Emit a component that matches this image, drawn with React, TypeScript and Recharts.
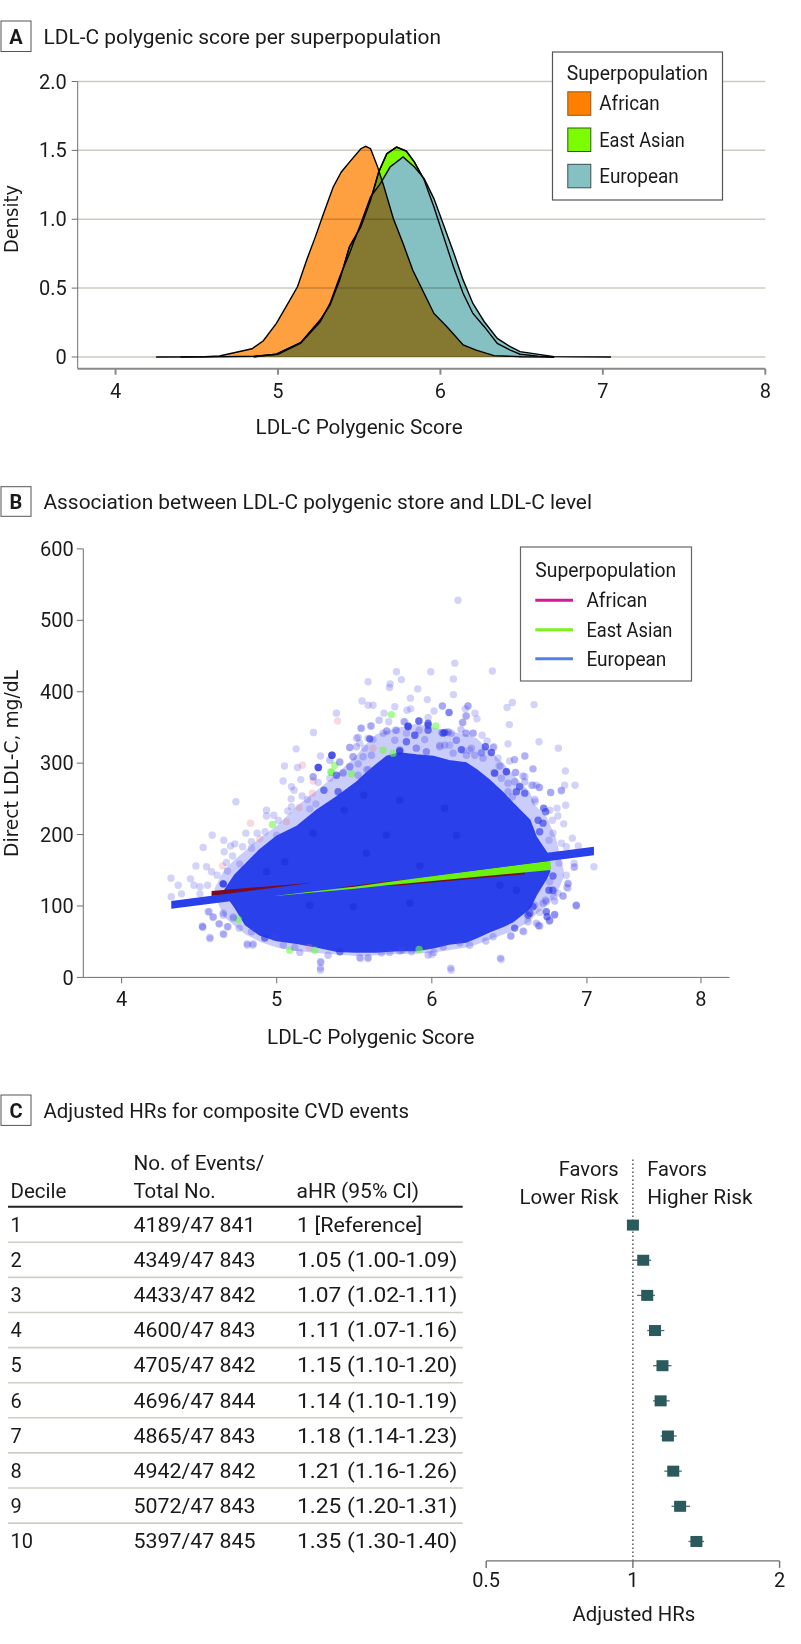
import {
  Area,
  ComposedChart,
  ErrorBar,
  ReferenceLine,
  Scatter,
  ScatterChart,
  XAxis,
  YAxis,
} from "recharts";

const FONT = "Roboto, sans-serif";
const AXIS_GREY = "#6f6f6f";

// Panel A: density curves
const africanScores = [4.4, 4.55, 4.64, 4.84, 4.91, 4.99, 5.05, 5.12, 5.18, 5.23, 5.28, 5.34, 5.39, 5.44, 5.51, 5.54, 5.57, 5.61, 5.65, 5.71, 5.77, 5.83, 5.9, 5.96, 6.04, 6.14, 6.22, 6.33, 6.5, 6.7];
const africanDensity = [0, 0.002, 0.007, 0.06, 0.118, 0.244, 0.365, 0.51, 0.715, 0.872, 1.04, 1.234, 1.343, 1.415, 1.512, 1.529, 1.512, 1.391, 1.246, 1.005, 0.824, 0.63, 0.461, 0.316, 0.22, 0.087, 0.05, 0.01, 0.002, 0];
const eastAsianScores = [4.85, 4.99, 5.14, 5.26, 5.32, 5.38, 5.44, 5.51, 5.57, 5.62, 5.67, 5.73, 5.79, 5.84, 5.9, 5.96, 6.02, 6.08, 6.14, 6.2, 6.27, 6.35, 6.43, 6.49, 6.6, 6.7];
const eastAsianDensity = [0.002, 0.02, 0.104, 0.268, 0.377, 0.558, 0.8, 0.944, 1.138, 1.343, 1.476, 1.524, 1.495, 1.415, 1.285, 1.089, 0.872, 0.655, 0.461, 0.316, 0.22, 0.099, 0.05, 0.02, 0.006, 0];
const europeanScores = [4.25, 4.6, 4.85, 5.0, 5.14, 5.26, 5.32, 5.38, 5.44, 5.51, 5.57, 5.63, 5.69, 5.77, 5.84, 5.9, 5.96, 6.02, 6.08, 6.14, 6.2, 6.27, 6.35, 6.43, 6.49, 6.7, 7.05];
const europeanDensity = [0, 0.001, 0.005, 0.02, 0.1, 0.256, 0.389, 0.582, 0.751, 0.969, 1.162, 1.258, 1.379, 1.452, 1.379, 1.295, 1.15, 0.957, 0.763, 0.558, 0.389, 0.256, 0.135, 0.075, 0.039, 0.003, 0];
const densityTicks = [0, 0.5, 1, 1.5, 2];
const densityTickLabels = ["0", "0.5", "1.0", "1.5", "2.0"];
const scoreTicksA = [4, 5, 6, 7, 8];

// Panel B: outline of the solid cloud
const cloudScores = [4.66, 4.73, 4.8, 4.89, 5.0, 5.13, 5.26, 5.39, 5.51, 5.57, 5.64, 5.71, 5.79, 5.9, 6.01, 6.11, 6.22, 6.29, 6.37, 6.46, 6.52, 6.63, 6.67, 6.74, 6.76];
const cloudHigh = [120, 143, 158, 178, 197, 211, 234, 253, 272, 284, 297, 309, 314, 311, 309, 303, 300, 290, 276, 258, 244, 220, 197, 174, 152];
const cloudLow = [120, 99, 74, 60, 52, 48, 43, 37, 36, 36, 36, 37, 38, 38, 42, 47, 50, 56, 64, 72, 78, 97, 115, 140, 150];
// the crowded ring of points round it
const ringScores = [4.6, 4.66, 4.73, 4.8, 4.89, 5.0, 5.13, 5.26, 5.39, 5.51, 5.57, 5.64, 5.71, 5.79, 5.9, 6.01, 6.11, 6.22, 6.29, 6.37, 6.46, 6.52, 6.63, 6.67, 6.74, 6.8, 6.85];
const ringHigh = [125, 150, 165, 178, 195, 212, 240, 262, 285, 310, 325, 340, 345, 350, 355, 350, 345, 340, 335, 318, 300, 285, 260, 240, 225, 195, 150];
const ringLow = [115, 85, 72, 60, 50, 42, 37, 34, 32, 30, 30, 31, 32, 33, 33, 35, 38, 42, 46, 53, 60, 65, 78, 88, 100, 115, 140];

const europeanPoints: [number, number][] = [
  [6.169, 528], [6.148, 440], [5.772, 428], [5.993, 428], [6.39, 429], [5.589, 414], [5.804, 417], [5.731, 411], [5.727, 406], [6.139, 418],
  [5.909, 404], [6.139, 396], [5.862, 391], [5.971, 389], [5.55, 387], [5.589, 381], [5.621, 381], [5.761, 379], [5.864, 376], [5.84, 374],
  [6.014, 373], [6.068, 380], [6.233, 380], [6.216, 376], [6.485, 378], [6.519, 385], [6.659, 382], [5.385, 370], [5.692, 370], [6.218, 366],
  [6.278, 370], [6.291, 362], [6.5, 354], [5.237, 343], [6.691, 330], [6.491, 327], [6.816, 321], [5.125, 320], [5.282, 310], [6.6, 310],
  [5.05, 296], [5.134, 294], [6.652, 292], [6.861, 289], [6.502, 303], [6.532, 305], [5.722, 358], [5.819, 358], [5.976, 364], [6.201, 357],
  [5.604, 352], [5.542, 349], [5.707, 345], [5.765, 346], [5.836, 342], [5.89, 339], [6.062, 343], [6.105, 343], [6.158, 332], [6.223, 342],
  [6.266, 342], [6.324, 339], [6.356, 331], [5.514, 335], [5.589, 335], [5.621, 333], [5.471, 322], [5.535, 328], [5.568, 321], [5.9, 321],
  [5.965, 316], [6.051, 325], [6.115, 325], [6.201, 318], [6.244, 318], [6.347, 323], [6.4, 323], [6.384, 315], [6.32, 314], [6.427, 307],
  [5.492, 309], [5.407, 301], [5.471, 295], [5.428, 287], [5.579, 291], [6.401, 287], [6.48, 288], [6.538, 287], [6.6, 281], [6.442, 296],
  [5.041, 275], [5.155, 277], [5.095, 267], [5.112, 262], [5.235, 281], [5.267, 273], [5.342, 279], [4.737, 246], [5.093, 250], [5.164, 254],
  [5.198, 249], [5.252, 243], [4.934, 234], [4.934, 226], [4.981, 227], [5.071, 233], [5.095, 239], [5.213, 236], [5.011, 220], [4.801, 202],
  [4.874, 202], [4.925, 204], [5.0, 199], [4.584, 199], [4.659, 192], [4.73, 187], [4.702, 184], [4.837, 190], [4.78, 183], [4.526, 182],
  [4.661, 176], [4.837, 181], [4.715, 170], [4.479, 156], [4.547, 155], [4.676, 161], [4.762, 159], [4.58, 148], [4.616, 143], [4.683, 149],
  [4.318, 139], [4.444, 138], [4.365, 129], [4.466, 129], [4.505, 127], [4.554, 129], [4.386, 117], [4.32, 113], [4.505, 117], [4.565, 92],
  [4.59, 84], [4.655, 87], [4.629, 75], [4.52, 72], [4.687, 71], [4.72, 85], [4.524, 70], [4.57, 54], [4.659, 60], [4.81, 45],
  [4.846, 45], [5.285, 21], [5.282, 10], [5.541, 26], [5.588, 26], [6.124, 10], [6.447, 25], [6.0, 32], [6.51, 58], [6.592, 64],
  [6.69, 72], [6.757, 79], [6.79, 87], [6.93, 100], [6.87, 126], [6.92, 155], [7.045, 155], [6.599, 310], [6.534, 305], [6.652, 292],
  [6.481, 288], [6.405, 286], [6.433, 296], [6.674, 269], [6.642, 269], [6.856, 269], [6.923, 269], [6.691, 266], [6.766, 259], [6.835, 261],
  [6.667, 246], [6.863, 241], [6.807, 237], [6.76, 234], [6.813, 226], [6.777, 220], [6.85, 215], [6.781, 202], [6.906, 195], [6.835, 188],
  [6.755, 192], [6.867, 183], [6.944, 184], [6.82, 160], [6.917, 160], [6.917, 154], [6.867, 143], [6.76, 134], [6.878, 132], [6.878, 125],
  [6.813, 118], [6.846, 114], [6.785, 113], [6.931, 101], [6.738, 106], [6.792, 88], [6.695, 91], [6.76, 79], [6.685, 73],
];
// second pass along the edge of the cloud, from closer crops
const europeanEdge: [number, number][] = [
  [5.61, 352], [5.546, 349], [5.66, 360], [5.711, 345], [5.772, 346], [5.825, 358], [5.918, 359], [5.918, 346], [6.105, 344], [5.525, 336],
  [5.686, 342], [5.761, 332], [5.954, 333], [6.051, 323], [5.471, 322], [5.514, 323], [5.9, 321], [5.965, 316], [5.492, 309], [5.557, 309],
  [5.611, 311], [5.406, 302], [5.342, 304], [5.471, 295], [5.525, 299], [5.589, 291], [5.428, 286], [5.235, 281], [5.525, 283], [6.068, 380],
  [6.233, 380], [6.223, 366], [6.197, 357], [6.188, 347], [6.219, 342], [6.266, 342], [6.126, 342], [6.158, 332], [6.255, 321], [6.277, 311],
  [6.223, 311], [6.137, 314], [6.083, 325], [6.395, 322], [6.319, 315], [6.33, 307], [6.541, 287], [6.448, 279], [6.588, 282], [6.599, 274],
  [6.534, 274], [6.491, 272], [6.652, 269], [6.695, 266], [6.491, 260], [6.519, 253], [6.663, 249], [6.835, 262], [6.766, 259],
  [4.569, 56], [4.655, 61], [4.522, 71], [4.629, 75], [4.681, 71], [4.558, 92], [4.59, 85], [4.655, 90], [4.72, 83], [4.758, 69],
  [4.837, 64], [4.81, 47], [4.848, 47], [4.988, 56], [5.042, 45], [5.117, 42], [5.149, 35], [5.331, 31], [5.535, 28], [5.589, 28],
  [5.282, 22], [5.282, 13], [5.675, 34], [5.729, 35], [5.793, 37], [5.81, 38], [5.869, 36], [5.976, 31.4], [6.013, 35], [6.073, 43],
  [6.18, 48], [6.244, 45], [6.348, 51], [6.395, 57], [6.509, 58], [6.588, 65], [6.62, 78], [6.674, 76], [6.696, 72], [6.76, 80],
  [6.792, 88], [6.717, 104], [6.663, 101], [6.732, 108], [6.792, 107], [6.846, 114], [6.878, 131], [6.932, 101], [6.442, 27], [6.122, 13],
];
// places where several European points pile up and look darker
const europeanPiled: [number, number][] = [
  [6.111, 371], [5.357, 311], [5.267, 294], [5.916, 359], [5.847, 352], [5.976, 353], [5.793, 316], [5.269, 294], [5.304, 262], [5.396, 260],
  [4.655, 131], [6.566, 267], [6.599, 258], [6.545, 260], [6.721, 237], [6.734, 232], [6.685, 220], [6.717, 216], [6.695, 204], [6.781, 142],
  [6.755, 122], [6.652, 99], [6.743, 85], [6.62, 87], [5.976, 356], [5.847, 351], [5.976, 346], [6.072, 342], [5.6, 334], [5.836, 330],
  [5.89, 339], [5.793, 318], [5.355, 311], [5.385, 283], [6.083, 343], [6.19, 319], [6.345, 323], [6.384, 315], [6.481, 288], [6.405, 286],
  [4.923, 55], [5.407, 36], [6.534, 69], [6.738, 92], [6.631, 90], [6.78, 122], [4.655, 131],
];
// faint darker spots inside the solid part
const europeanInner: [number, number][] = [
  [6.158, 199], [5.922, 156], [5.858, 104], [6.438, 129], [6.545, 122], [5.793, 248], [6.083, 237], [5.434, 234], [5.561, 255], [5.052, 162],
  [4.934, 148], [5.235, 202], [5.578, 174], [5.707, 199], [5.213, 101], [5.493, 99],
];
const eastAsianPoints: [number, number][] = [
  [5.739, 368], [6.025, 352], [5.686, 318], [5.75, 314], [5.374, 297], [5.349, 288], [5.482, 285], [5.353, 287], [4.973, 214], [4.752, 81], [5.084, 38], [5.245, 38], [5.918, 39],
];
const africanPoints: [number, number][] = [
  [5.392, 359], [5.166, 297], [5.621, 321], [5.235, 275], [5.23, 258], [5.145, 238], [5.063, 218], [4.831, 216], [4.891, 194], [4.651, 156], [5.21, 42],
];

// regression bands with their CI, [low, high]
const africanBandScores = [4.58, 5.19, 5.8, 6.6];
const africanBand: [number, number][] = [[114, 121], [124, 132], [129, 136], [144.5, 150]];
const eastAsianBandScores = [4.99, 5.5, 5.73, 6.766];
const eastAsianBand: [number, number][] = [[114, 114.5], [124, 127], [129.4, 134], [150.4, 163.5]];
const europeanBandScores = [4.32, 7.045];
const europeanBand: [number, number][] = [[96, 107], [171, 183]];
const ldlTicks = [0, 100, 200, 300, 400, 500, 600];
const scoreTicksB = [4, 5, 6, 7, 7.735]; // the 8 sits short of its place in the original
const scoreTickLabelsB = ["4", "5", "6", "7", "8"];

// Panel C: table and forest plot
const deciles = [1, 2, 3, 4, 5, 6, 7, 8, 9, 10];
const eventLabels = ["4189/47 841", "4349/47 843", "4433/47 842", "4600/47 843", "4705/47 842", "4696/47 844", "4865/47 843", "4942/47 842", "5072/47 843", "5397/47 845"];
const hrLabels = ["1 [Reference]", "1.05 (1.00-1.09)", "1.07 (1.02-1.11)", "1.11 (1.07-1.16)", "1.15 (1.10-1.20)", "1.14 (1.10-1.19)", "1.18 (1.14-1.23)", "1.21 (1.16-1.26)", "1.25 (1.20-1.31)", "1.35 (1.30-1.40)"];
const hazardRatios = [1, 1.05, 1.07, 1.11, 1.15, 1.14, 1.18, 1.21, 1.25, 1.35];
const ciLow = [1, 1.0, 1.02, 1.07, 1.1, 1.1, 1.14, 1.16, 1.2, 1.3];
const ciHigh = [1, 1.09, 1.11, 1.16, 1.2, 1.19, 1.23, 1.26, 1.31, 1.4];
const hrTicks = [0.5, 1, 2];

const curve = (xs: number[], ys: number[]) => xs.map((score, i) => ({ score, density: ys[i] }));
const band = (xs: number[], ranges: [number, number][]) => xs.map((score, i) => ({ score, range: ranges[i] }));
const points = (list: [number, number][]) => list.map(([score, ldl]) => ({ score, ldl }));

const cloudRows = cloudScores.map((score, i) => ({ score, range: [cloudLow[i], cloudHigh[i]] }));
const ringRows = ringScores.map((score, i) => ({ score, range: [ringLow[i], ringHigh[i]] }));
const forestRows = deciles.map((decile, i) => ({
  hr: hazardRatios[i],
  decile,
  ci: [hazardRatios[i] - ciLow[i], ciHigh[i] - hazardRatios[i]],
}));

const tickStyle = { fontFamily: FONT, fontSize: 20, fill: "#1a1a1a" };

function T(props: { x: number; y: number; w?: number; size?: number; family?: string; weight?: number; anchor?: "start" | "middle" | "end"; rotate?: boolean; children: string }) {
  const { x, y, w, size = 20, family = FONT, weight, anchor = "start", rotate, children } = props;
  return (
    <text
      x={x}
      y={y}
      fontFamily={family}
      fontSize={size}
      fontWeight={weight}
      fill="#1a1a1a"
      textAnchor={anchor}
      textLength={w}
      lengthAdjust={w ? "spacingAndGlyphs" : undefined}
      transform={rotate ? `rotate(-90 ${x} ${y})` : undefined}
    >
      {children}
    </text>
  );
}

function PanelTitle({ letter, top, height, baseline, width, children }: { letter: string; top: number; height: number; baseline: number; width: number; children: string }) {
  return (
    <g>
      <rect x={1} y={top} width={30} height={height} fill="#fff" stroke="#555" strokeWidth={1} />
      <T x={16} y={baseline} weight={700} anchor="middle">{letter}</T>
      <T x={43.5} y={baseline} w={width}>{children}</T>
    </g>
  );
}

const dot = (r: number, fill: string) => (p: any) => <circle cx={p.cx} cy={p.cy} r={r} fill={fill} />;

function Overlay() {
  return (
    <svg width={801} height={1644} style={{ position: "absolute", left: 0, top: 0 }}>
      <PanelTitle letter="A" top={21} height={30.5} baseline={44} width={397.5}>LDL-C polygenic score per superpopulation</PanelTitle>
      <T x={18} y={253} size={19} family="DejaVu Sans" w={68} rotate>Density</T>
      <T x={255.6} y={434} w={207}>LDL-C Polygenic Score</T>

      <rect x={552.5} y={52} width={170} height={148} fill="#fff" stroke="#555" strokeWidth={1.2} />
      <T x={566.7} y={80} w={141.3}>Superpopulation</T>
      <rect x={567.8} y={91.8} width={23} height={23.5} fill="#FF7F00" stroke="#8a5a2a" strokeWidth={1} />
      <rect x={567.8} y={128} width={23} height={23.5} fill="#7CFC00" stroke="#2e5a10" strokeWidth={1} />
      <rect x={567.8} y={164.3} width={23} height={23.5} fill="#85C1C3" stroke="#3a5050" strokeWidth={1} />
      <T x={599.3} y={110.3} w={60.5}>African</T>
      <T x={599.3} y={146.7} w={85.5}>East Asian</T>
      <T x={599.3} y={183} w={79.5}>European</T>

      <PanelTitle letter="B" top={486.7} height={29.6} baseline={509} width={548.5}>Association between LDL-C polygenic store and LDL-C level</PanelTitle>
      <T x={18} y={857} size={19} family="DejaVu Sans" w={187} rotate>Direct LDL-C, mg/dL</T>
      <T x={267} y={1043.7} w={207.4}>LDL-C Polygenic Score</T>

      <rect x={520.5} y={547} width={171} height={134} fill="#fff" stroke="#666" strokeWidth={1.2} />
      <T x={535.3} y={577} w={141}>Superpopulation</T>
      <line x1={535.3} x2={573} y1={600.2} y2={600.2} stroke="#D8189A" strokeWidth={3} />
      <line x1={535.3} x2={573} y1={629.7} y2={629.7} stroke="#7DF020" strokeWidth={3} />
      <line x1={535.3} x2={573} y1={658.8} y2={658.8} stroke="#5080E8" strokeWidth={3} />
      <T x={586.4} y={607} w={61}>African</T>
      <T x={586.4} y={637} w={86}>East Asian</T>
      <T x={586.4} y={666.3} w={80}>European</T>

      <PanelTitle letter="C" top={1095} height={30.4} baseline={1118} width={365.5}>Adjusted HRs for composite CVD events</PanelTitle>
      <T x={133.4} y={1170} w={131}>No. of Events/</T>
      <T x={10.5} y={1197.7} w={56}>Decile</T>
      <T x={133.4} y={1197.7} w={82.3}>Total No.</T>
      <T x={296.5} y={1197.7} w={122.7}>aHR (95% CI)</T>
      <line x1={8} x2={462.7} y1={1206.7} y2={1206.7} stroke="#222" strokeWidth={2} />
      {deciles.map((d, i) => {
        const baseline = 1231.8 + i * 35.15;
        return (
          <g key={d}>
            <T x={10.5} y={baseline}>{String(d)}</T>
            <T x={133.4} y={baseline} w={122.2}>{eventLabels[i]}</T>
            <T x={297} y={baseline} w={i === 0 ? 125.3 : 160.5}>{hrLabels[i]}</T>
            {i < 9 && <line x1={8} x2={462.7} y1={1242.3 + i * 35.1} y2={1242.3 + i * 35.1} stroke="#cfcfc4" strokeWidth={1.6} />}
          </g>
        );
      })}
      <T x={558.8} y={1176.1} w={59.8}>Favors</T>
      <T x={519.4} y={1203.5} w={99.2}>Lower Risk</T>
      <T x={647.2} y={1176.1} w={59.8}>Favors</T>
      <T x={647.2} y={1203.5} w={105.3}>Higher Risk</T>
      <T x={572.6} y={1621} w={122.7}>Adjusted HRs</T>
    </svg>
  );
}

export default function App() {
  return (
    <div style={{ position: "absolute", left: 0, top: 0, width: 801, height: 1644, background: "#fff", overflow: "hidden" }}>
      <style>{`.african-curve { mix-blend-mode: multiply; } .grid-front line { mix-blend-mode: multiply; }`}</style>

      {/* A */}
      <div style={{ position: "absolute", left: 0, top: 0 }}>
        <ComposedChart width={801} height={460} margin={{ top: 81.5, right: 35.7, bottom: 51.3, left: 0 }}>
          <XAxis dataKey="score" type="number" domain={[3.767, 8]} ticks={scoreTicksA} interval={0} height={40} tick={tickStyle} tickSize={6} tickMargin={9} stroke="#8a8a8a" strokeWidth={2} />
          <YAxis type="number" domain={[-0.085, 2]} ticks={densityTicks} interval={0} width={77.7} tick={tickStyle} tickSize={6} tickMargin={5} stroke={AXIS_GREY} tickFormatter={(v, i) => densityTickLabels[i]} />
          <Area data={curve(eastAsianScores, eastAsianDensity)} dataKey="density" type="linear" fill="#7CFC00" fillOpacity={1} stroke="#000" strokeWidth={1.4} isAnimationActive={false} />
          <Area data={curve(europeanScores, europeanDensity)} dataKey="density" type="linear" fill="#85C1C3" fillOpacity={1} stroke="#000" strokeWidth={1.4} isAnimationActive={false} />
          {/* the East Asian outline still shows through the European fill */}
          <Area data={curve(eastAsianScores, eastAsianDensity)} dataKey="density" type="linear" fill="none" stroke="#000" strokeWidth={1.4} isAnimationActive={false} />
          <Area className="african-curve" data={curve(africanScores, africanDensity)} dataKey="density" type="linear" fill="#FFA040" fillOpacity={1} stroke="#000" strokeWidth={1.4} isAnimationActive={false} />
          {densityTicks.map((v) => (
            <ReferenceLine key={v} y={v} isFront className="grid-front" stroke="#cbcbbf" strokeWidth={1.5} />
          ))}
        </ComposedChart>
      </div>

      {/* B */}
      <div style={{ position: "absolute", left: 0, top: 530 }}>
        <ComposedChart width={801} height={530} margin={{ top: 18.9, right: 71.5, bottom: 42.6, left: 0 }}>
          <XAxis dataKey="score" type="number" domain={[3.753, 7.919]} ticks={scoreTicksB} interval={0} height={40} tick={tickStyle} tickSize={6} tickMargin={8} stroke={AXIS_GREY} tickFormatter={(v, i) => scoreTickLabelsB[i]} />
          <YAxis type="number" domain={[0, 600]} ticks={ldlTicks} interval={0} width={83.3} tick={tickStyle} tickSize={6.5} tickMargin={3} stroke={AXIS_GREY} />
          <Scatter data={points(africanPoints)} dataKey="ldl" shape={dot(3.7, "rgba(225,120,140,0.28)")} isAnimationActive={false} />
          <Scatter data={points(eastAsianPoints)} dataKey="ldl" shape={dot(3.7, "rgba(110,250,70,0.6)")} isAnimationActive={false} />
          <Scatter data={points(europeanPoints)} dataKey="ldl" shape={dot(3.7, "rgba(70,70,235,0.24)")} isAnimationActive={false} />
          <Scatter data={points(europeanEdge)} dataKey="ldl" shape={dot(3.7, "rgba(70,70,235,0.3)")} isAnimationActive={false} />
          <Scatter data={points(europeanPiled)} dataKey="ldl" shape={dot(3.7, "rgba(40,50,230,0.6)")} isAnimationActive={false} />
          <Scatter data={points(europeanInner)} dataKey="ldl" shape={dot(3.7, "rgba(20,30,205,0.3)")} isAnimationActive={false} />
          <Area data={ringRows} dataKey="range" type="linear" fill="#5A62F0" fillOpacity={0.32} stroke="none" isAnimationActive={false} />
          <Area data={cloudRows} dataKey="range" type="linear" fill="#2A40EA" fillOpacity={1} stroke="#2A40EA" strokeWidth={2} isAnimationActive={false} />
          <Area data={band(africanBandScores, africanBand)} dataKey="range" type="linear" fill="#7A0A1E" fillOpacity={1} stroke="none" isAnimationActive={false} />
          <Area data={band(eastAsianBandScores, eastAsianBand)} dataKey="range" type="linear" fill="#6CF010" fillOpacity={1} stroke="none" isAnimationActive={false} />
          <Area data={band(europeanBandScores, europeanBand)} dataKey="range" type="linear" fill="#2A40EA" fillOpacity={1} stroke="none" isAnimationActive={false} />
        </ComposedChart>
      </div>

      {/* C forest plot */}
      <div style={{ position: "absolute", left: 0, top: 1100 }}>
        <ScatterChart width={801} height={544} margin={{ top: 59, right: 21.4, bottom: 43.1, left: 486.2 }}>
          <XAxis dataKey="hr" type="number" scale="log" domain={[0.5, 2]} ticks={hrTicks} interval={0} height={40} tick={tickStyle} tickSize={7} tickMargin={5} stroke={AXIS_GREY} strokeWidth={1.4} />
          <YAxis dataKey="decile" type="number" domain={[-0.88, 10.553]} reversed hide />
          <ReferenceLine x={1} stroke="#333" strokeWidth={1.2} strokeDasharray="1.5 2.5" />
          <Scatter
            data={forestRows}
            shape={(p: any) => <rect x={p.cx - 6} y={p.cy - 5.5} width={12} height={11} fill="#2A5A5C" />}
            isAnimationActive={false}
          >
            <ErrorBar dataKey="ci" direction="x" width={0} stroke="#5c6a6a" strokeWidth={1.3} isAnimationActive={false} />
          </Scatter>
        </ScatterChart>
      </div>

      <Overlay />
    </div>
  );
}
